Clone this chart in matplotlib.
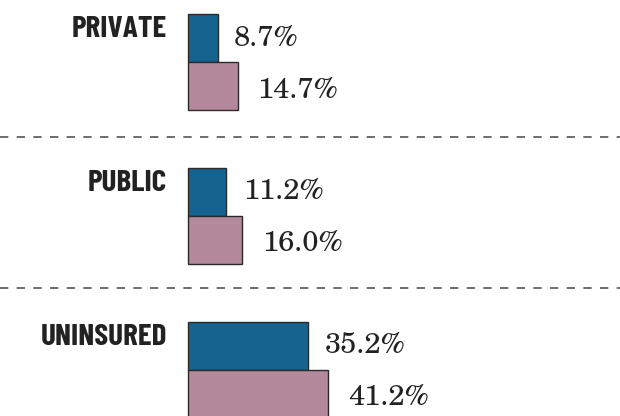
import matplotlib
matplotlib.use("Agg")
import matplotlib.pyplot as plt
import numpy as np

# data
categories = ["PRIVATE", "PUBLIC", "UNINSURED"]
blue_values = [8.7, 11.2, 35.2]
pink_values = [14.7, 16.0, 41.2]

BLUE = "#17638f"
PINK = "#b4899b"
EDGE = "#2a2a2a"
LABEL_FONT = ["Barlow Condensed", "Roboto Condensed", "DejaVu Sans"]
VALUE_FONT = ["TeX Gyre Schola", "DejaVu Serif"]

fig = plt.figure(figsize=(6.2, 4.16), dpi=100)
ax = fig.add_axes([0, 0, 1, 1])

# one group = 1 unit on y, bars 0.312 tall each
bar_h = 0.312
y = np.arange(len(categories))

ax.barh(y - bar_h / 2, blue_values, height=bar_h, color=BLUE,
        edgecolor=EDGE, linewidth=1.0)
ax.barh(y + bar_h / 2, pink_values, height=bar_h, color=PINK,
        edgecolor=EDGE, linewidth=1.0)

for i in range(len(categories)):
    # value labels, baseline a bit under the bar middle
    ax.annotate(f"{blue_values[i]:.1f}%", (blue_values[i], y[i] - bar_h / 2),
                xytext=(12, -5.4), textcoords="offset points",
                ha="left", va="baseline", fontsize=21, family=VALUE_FONT,
                color="#222222")
    ax.annotate(f"{pink_values[i]:.1f}%", (pink_values[i], y[i] + bar_h / 2),
                xytext=(14, -8.3), textcoords="offset points",
                ha="left", va="baseline", fontsize=21, family=VALUE_FONT,
                color="#222222")
    # category label, caps top level with the blue bar top
    ax.annotate(categories[i], (0, y[i] - bar_h), xytext=(-15, -16.6),
                textcoords="offset points", ha="right", va="baseline",
                fontsize=22.5, fontweight="bold", fontstretch="condensed",
                family=LABEL_FONT, color="#222222")

# dashed separators between the groups
for i in range(len(categories) - 1):
    ax.axhline(y[i] + 0.49 - 0.02 * i, color="#555555", linewidth=1.2,
               linestyle=(0, (5, 5)))

ax.set_xlim(-55.1, 126.7)
ax.set_ylim(2.3, -0.403)
ax.axis("off")

fig.savefig("out.png", dpi=100)
